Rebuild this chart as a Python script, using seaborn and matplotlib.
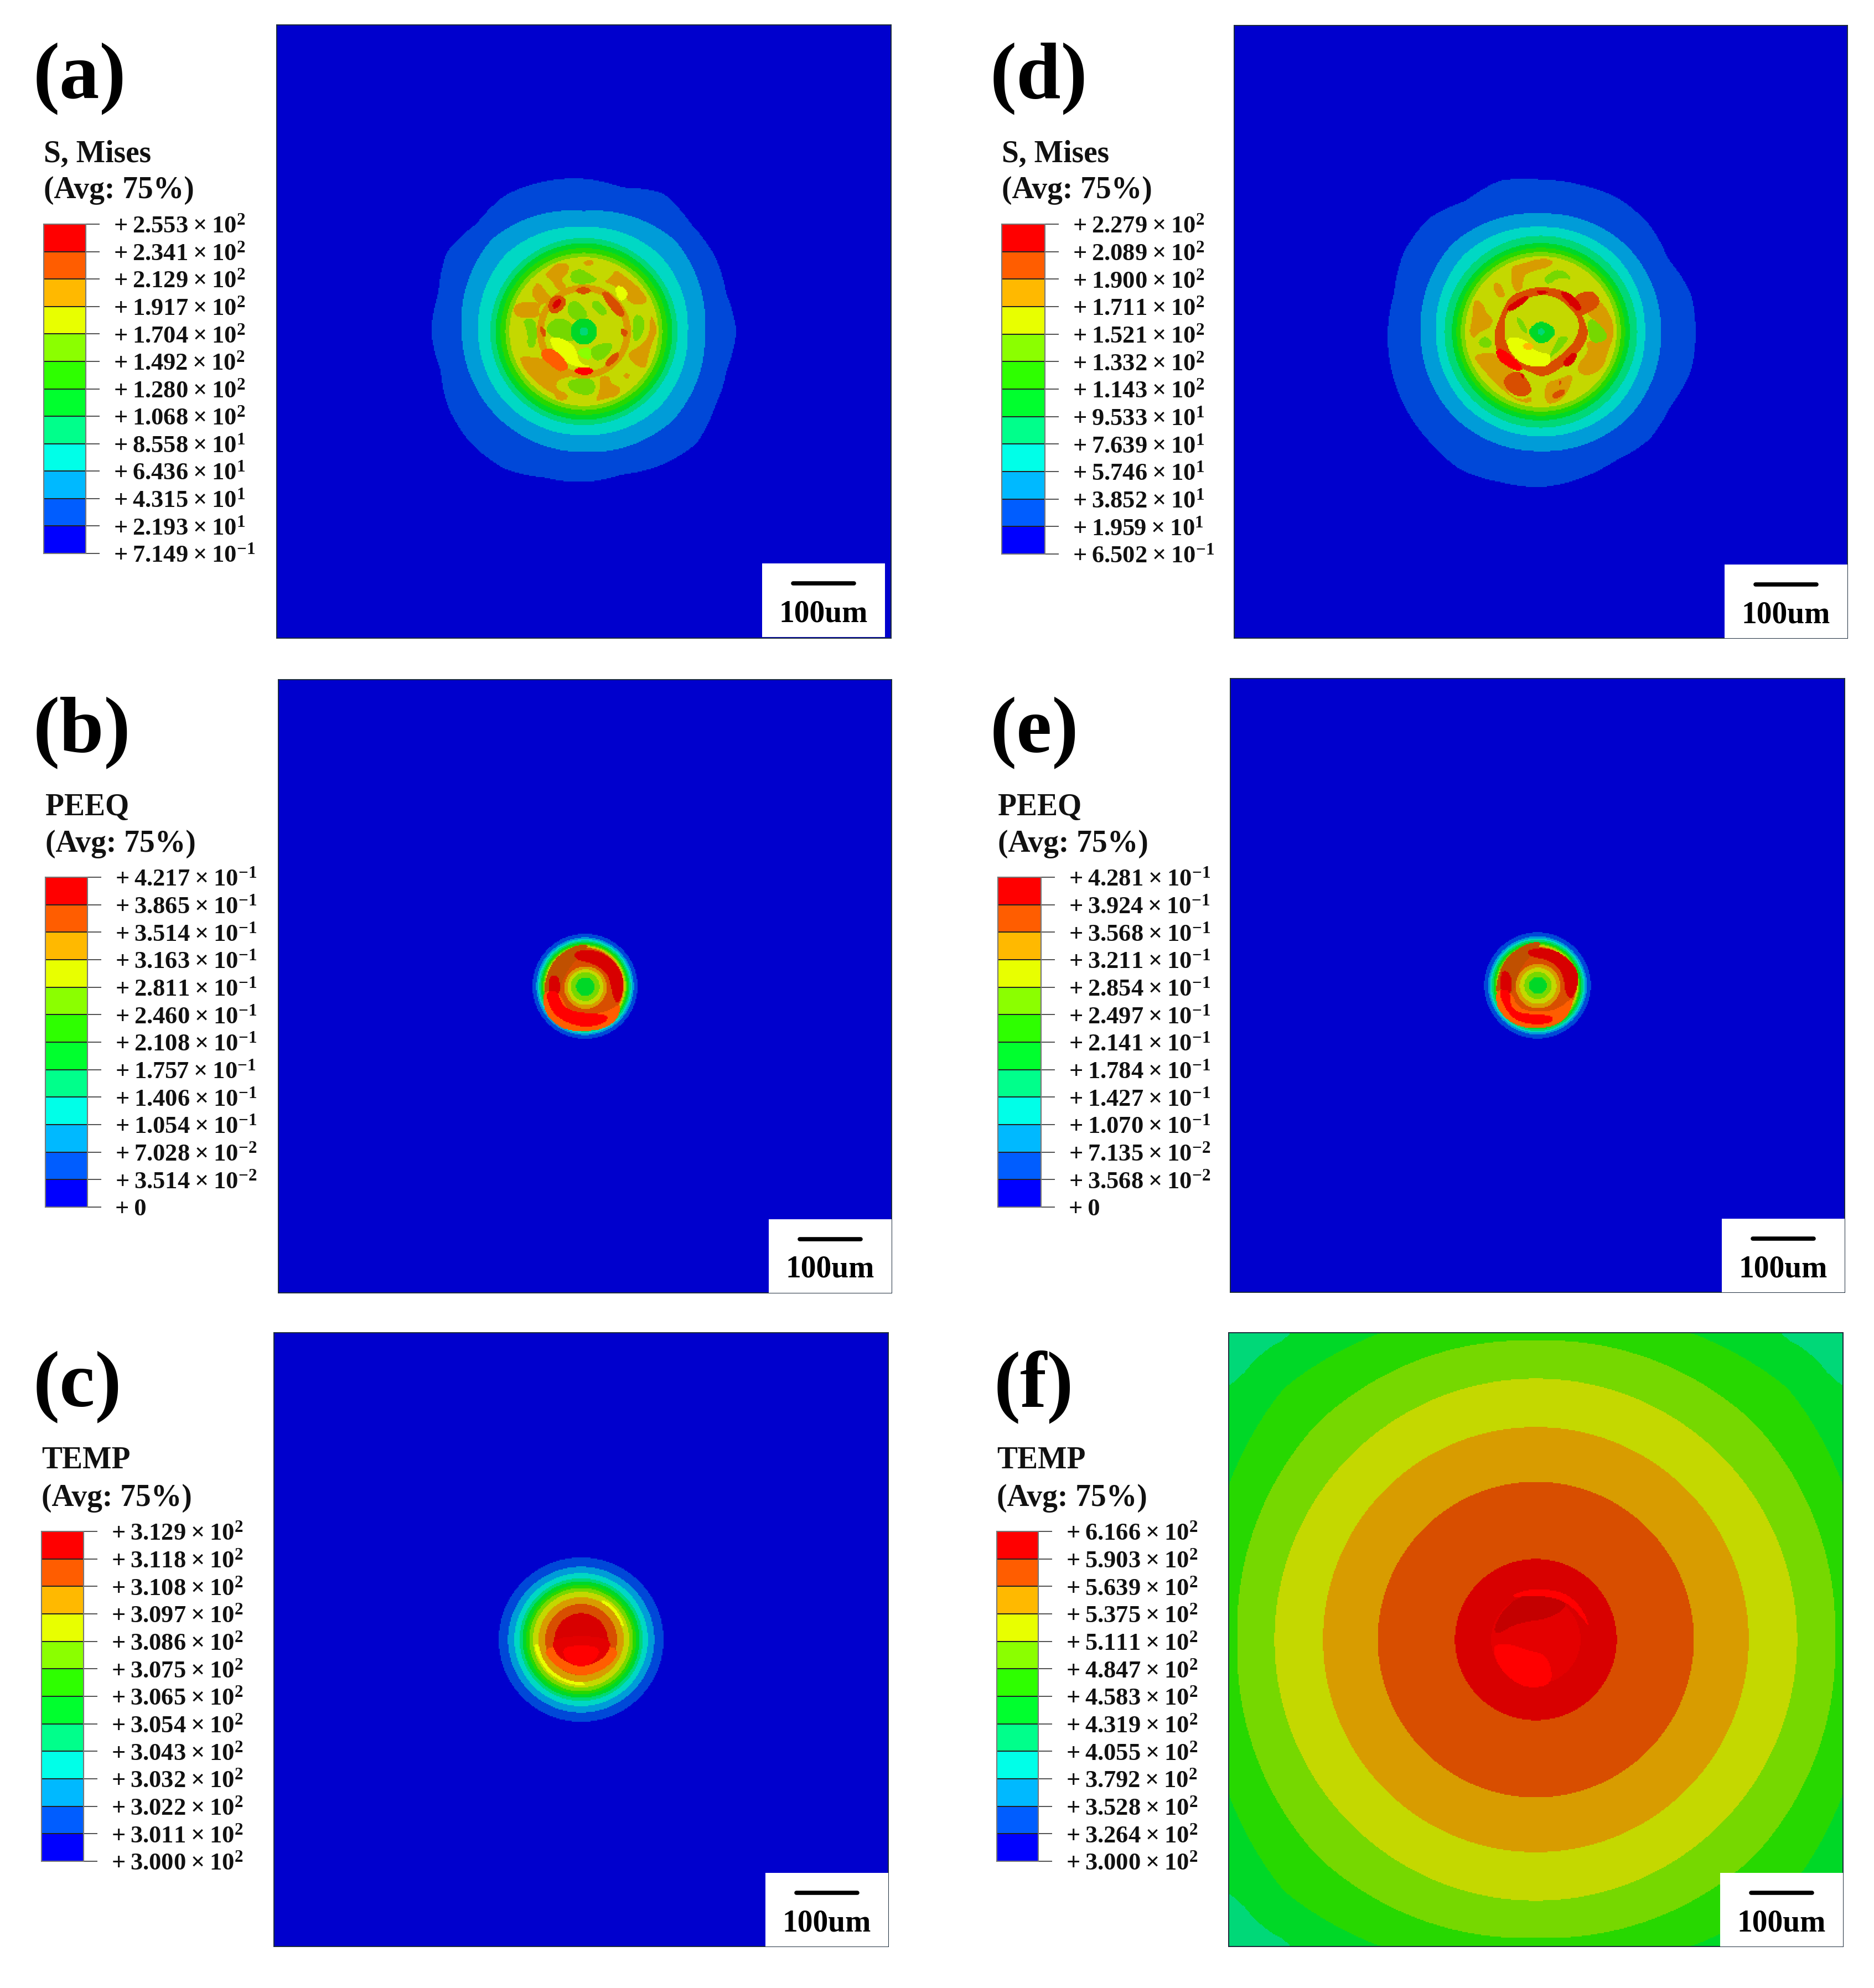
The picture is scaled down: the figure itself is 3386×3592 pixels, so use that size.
import numpy as np
import matplotlib
matplotlib.use("Agg")
import matplotlib.pyplot as plt
from matplotlib.colors import ListedColormap
from matplotlib.path import Path
from matplotlib.patches import Rectangle
import seaborn as sns

# legend values, top to bottom
legend_a = ["2.553e2", "2.341e2", "2.129e2", "1.917e2", "1.704e2", "1.492e2", "1.280e2", "1.068e2", "8.558e1", "6.436e1", "4.315e1", "2.193e1", "7.149e-1"]
legend_b = ["4.217e-1", "3.865e-1", "3.514e-1", "3.163e-1", "2.811e-1", "2.460e-1", "2.108e-1", "1.757e-1", "1.406e-1", "1.054e-1", "7.028e-2", "3.514e-2", "0"]
legend_c = ["3.129e2", "3.118e2", "3.108e2", "3.097e2", "3.086e2", "3.075e2", "3.065e2", "3.054e2", "3.043e2", "3.032e2", "3.022e2", "3.011e2", "3.000e2"]
legend_d = ["2.279e2", "2.089e2", "1.900e2", "1.711e2", "1.521e2", "1.332e2", "1.143e2", "9.533e1", "7.639e1", "5.746e1", "3.852e1", "1.959e1", "6.502e-1"]
legend_e = ["4.281e-1", "3.924e-1", "3.568e-1", "3.211e-1", "2.854e-1", "2.497e-1", "2.141e-1", "1.784e-1", "1.427e-1", "1.070e-1", "7.135e-2", "3.568e-2", "0"]
legend_f = ["6.166e2", "5.903e2", "5.639e2", "5.375e2", "5.111e2", "4.847e2", "4.583e2", "4.319e2", "4.055e2", "3.792e2", "3.528e2", "3.264e2", "3.000e2"]

# contour colours: legend colours, and the same levels as lit in the viewport
legend_colors = ["#0000FF", "#005DFF", "#00B9FF", "#00FFE8", "#00FF8B", "#00FF2E",
                 "#2EFF00", "#8BFF00", "#E8FF00", "#FFB900", "#FF5D00", "#FF0000"]
field_colors = ["#0000CD", "#0048D8", "#009CD8", "#00D8C4", "#00D878", "#00D827",
                "#27D800", "#76D800", "#C4D800", "#D89C00", "#D84E00", "#D80000"]
extra_colors = ["#C40000", "#E40000", "#C05000"]
BRIGHT = 12   # level + BRIGHT gives the pure legend colour
DARK_RED, MID_RED, DARK_ORANGE = 24, 25, 26

PX_PER_UM = 1.18
N_CELLS = 555

# (a) band outlines (scale 2.613, centre 768,785)
a_level1 = [722, 697, 715, 718, 755, 705, 723, 735, 745, 720, 750, 712,
            723, 702, 737, 752, 750, 715, 712, 700, 730, 752, 715, 700]
a_level2 = [572, 610, 570, 617, 578, 575, 570, 595]
a_level3 = [492, 510, 495, 520, 500, 500, 490, 505]
a_inner = [(4, 443), (5, 418), (6, 395), (7, 372), (8, 352)]
a_patches = [
    (9, [(770, 455), (800, 445), (815, 465), (790, 472), (770, 468)]),
    (9, [(640, 470), (690, 470), (690, 510), (655, 540), (680, 560), (680, 590), (640, 580), (625, 545), (590, 520), (610, 500)]),
    (9, [(530, 590), (555, 555), (600, 620), (625, 635), (590, 680), (560, 650), (530, 620)]),
    (9, [(445, 660), (510, 645), (560, 660), (555, 715), (470, 715), (445, 700)]),
    (9, [(920, 500), (960, 530), (1020, 575), (1065, 640), (990, 650), (950, 600), (915, 565), (870, 555), (910, 530)]),
    (9, [(1080, 715), (1100, 760), (1110, 790), (1085, 840), (1070, 900), (1060, 950), (1000, 920), (985, 880), (1040, 850), (1075, 810)]),
    (9, [(465, 900), (560, 910), (600, 920), (680, 970), (780, 985), (640, 1010), (635, 1060), (690, 1075), (690, 1110), (640, 1110), (630, 1080), (570, 1050), (490, 970), (470, 930)]),
    (9, [(845, 1005), (885, 1000), (895, 1035), (935, 1050), (925, 1085), (875, 1095), (825, 1110), (850, 1060)]),
    (9, [(958, 985), (985, 985), (978, 1008), (958, 1003)]),
    (7, [(710, 510), (750, 490), (800, 520), (830, 540), (770, 560), (715, 550)]),
    (7, [(480, 735), (540, 730), (540, 850), (500, 855), (505, 790)]),
    (7, [(1005, 710), (1045, 720), (1055, 760), (1030, 820), (1000, 820)]),
    (7, [(700, 1015), (810, 1010), (815, 1070), (770, 1085), (705, 1060)]),
    (8, [(555, 670), (590, 650), (590, 690), (565, 715)]),
    (8 + BRIGHT, [(920, 570), (960, 580), (975, 610), (950, 640), (925, 620)]),
]
a_ring = [(9, 222), (8, 190)]
a_core = [
    (7, [(600, 760), (650, 720), (720, 760), (720, 830), (640, 815), (600, 790)]),
    (7, [(695, 660), (735, 640), (790, 710), (740, 730), (700, 710)]),
    (7, [(800, 660), (830, 635), (880, 690), (850, 710)]),
    (7, [(800, 860), (905, 835), (880, 900), (820, 925)]),
    (8 + BRIGHT, [(610, 820), (670, 825), (725, 860), (740, 930), (800, 945), (720, 945), (650, 900)]),
    (7 + BRIGHT, [(745, 870), (800, 860), (800, 920), (745, 900)]),
    (10, [(725, 590), (765, 572), (805, 590), (765, 612)]),
    (10, [(600, 650), (640, 610), (685, 640), (660, 685), (615, 700)]),
    (11, [(618, 655), (650, 630), (662, 650), (630, 680)]),
    (10, [(852, 610), (885, 600), (955, 680), (950, 712), (915, 700)]),
    (10, [(945, 770), (978, 785), (962, 812), (942, 792)]),
    (10, [(558, 762), (584, 772), (588, 805), (570, 805)]),
    (10 + BRIGHT, [(560, 895), (610, 860), (695, 940), (660, 975), (615, 945)]),
    (11 + BRIGHT, [(715, 970), (765, 950), (820, 970), (770, 995)]),
    (10, [(865, 935), (920, 880), (935, 905), (890, 950)]),
]
a_center = [(5, 62), (4, 20)]

# (d) same crop scale, centre 793,785
d_level1 = [735, 730, 693, 722, 730, 720, 720, 741, 714, 755, 749, 717,
            723, 729, 734, 740, 755, 736, 735, 718, 704, 723, 707, 732]
d_level2 = [568, 575, 560, 590, 568, 575, 565, 580]
d_level3 = [492, 505, 497, 515, 495, 500, 495, 505]
d_inner = [(4, 455), (5, 420), (6, 398), (7, 378), (8, 358)]
d_patches = [
    (9, [(660, 480), (700, 470), (780, 445), (835, 450), (830, 480), (740, 500), (715, 520), (710, 580), (670, 580)]),
    (9, [(565, 560), (600, 555), (625, 615), (590, 620)]),
    (9, [(480, 640), (520, 660), (530, 700), (560, 720), (550, 760), (500, 780), (480, 810), (460, 780), (475, 720)]),
    (9, [(1000, 600), (1080, 640), (1130, 720), (1140, 800), (1110, 880), (1090, 950), (1040, 990), (980, 990), (960, 950), (1020, 880), (1000, 830), (1110, 810), (1060, 740), (1000, 690)]),
    (9, [(475, 895), (580, 880), (650, 960), (690, 990), (640, 1040), (640, 1080), (700, 1110), (750, 1090), (750, 1120), (700, 1120), (640, 1085), (560, 1010), (490, 930)]),
    (9, [(820, 1030), (880, 1015), (940, 990), (920, 1060), (880, 1110), (820, 1120)]),
    (7, [(495, 840), (530, 805), (565, 840), (535, 865)]),
    (7, [(1020, 730), (1060, 740), (1110, 810), (1060, 835), (1030, 825), (1020, 780)]),
    (7, [(810, 530), (880, 485), (940, 540), (880, 525), (830, 560)]),
    (10, [(950, 620), (1030, 590), (1075, 650), (1000, 700), (960, 690)]),
    (10, [(620, 1010), (690, 970), (740, 1040), (740, 1075), (690, 1090), (640, 1060)]),
    (10, [(845, 1080), (900, 1055), (905, 1080), (860, 1105)]),
    (10, [(880, 1015), (895, 1020), (880, 1045)]),
    (11, [(695, 985), (715, 985), (710, 1010)]),
]
d_ring_outer = [(790, 570), (900, 585), (960, 640), (995, 720), (1020, 790), (995, 855), (950, 905), (880, 965), (800, 1005), (720, 965), (655, 945), (585, 895), (570, 790), (605, 700), (645, 615), (720, 585)]
d_ring_inner = [(795, 605), (880, 625), (950, 690), (975, 740), (965, 810), (920, 870), (830, 940), (720, 950), (690, 900), (630, 850), (620, 790), (625, 700), (680, 640)]
d_core = [
    (7, [(680, 710), (720, 750), (730, 800), (690, 760)]),
    (7, [(880, 810), (925, 820), (870, 880), (830, 910), (860, 850)]),
    (8 + BRIGHT, [(640, 820), (720, 825), (760, 880), (830, 890), (820, 945), (720, 940), (660, 890)]),
    (9 + BRIGHT, [(735, 835), (760, 855), (735, 875), (705, 855)]),
    (5, [(795, 730), (870, 785), (795, 850), (730, 785)]),
    (4, [(795, 765), (815, 785), (795, 805), (775, 785)]),
    (11, [(635, 665), (720, 612), (735, 632), (650, 690)]),
    (11, [(770, 588), (835, 593), (790, 612)]),
    (11, [(880, 598), (925, 598), (985, 660), (965, 690)]),
    (11 + BRIGHT, [(585, 875), (620, 872), (705, 950), (680, 970), (600, 925)]),
    (11, [(895, 930), (950, 880), (962, 912), (920, 955)]),
]

# (b) crop scale 3, centre 465,450
b_bands = [(1, 285), (2, 265), (3, 255), (4, 247), (5, 238), (6, 230), (7, 224), (8, 218), (9, 213), (10, 208)]
b_dark = [(255, 430), (300, 310), (400, 245), (480, 240), (400, 320), (345, 400), (330, 480), (260, 490)]
b_bright = [(255, 490), (340, 490), (380, 590), (480, 600), (560, 590), (640, 540), (600, 660), (400, 690), (280, 620)]
b_arc_top = [(405, 265), (470, 250), (560, 265), (640, 330), (672, 400), (672, 480), (650, 540), (625, 535), (605, 450), (590, 385), (520, 330), (410, 305)]
b_arc_left = [(272, 400), (320, 395), (330, 490), (272, 490)]
b_arc_low = [(272, 490), (330, 490), (345, 550), (400, 590), (560, 600), (565, 625), (530, 650), (440, 662), (340, 625), (290, 570)]
b_rings = [(9, 115, 468, 457), (8, 97, 468, 455), (7, 78, 466, 452), (5, 50, 466, 452)]

# (e) crop scale 3, centre 473,480
e_bands = [(1, 290), (2, 268), (3, 258), (4, 250), (5, 240), (6, 232), (7, 226), (8, 220), (9, 214), (10, 210)]
e_dark = [(262, 460), (300, 340), (410, 265), (490, 262), (410, 340), (360, 420), (340, 520), (265, 520)]
e_bright = [(265, 520), (340, 520), (380, 610), (480, 625), (570, 610), (650, 540), (600, 680), (420, 710), (290, 640)]
e_arc_top = [(410, 295), (470, 272), (560, 282), (645, 335), (690, 400), (697, 470), (665, 550), (642, 548), (622, 510), (618, 450), (590, 380), (520, 335), (440, 325)]
e_arc_left = [(276, 415), (300, 405), (328, 430), (332, 520), (276, 520)]
e_arc_low = [(278, 520), (332, 520), (332, 590), (370, 632), (520, 638), (542, 660), (510, 682), (420, 682), (360, 662), (325, 630), (295, 580)]
e_rings = [(9, 122, 476, 484), (8, 100, 476, 482), (7, 75, 475, 480), (5, 48, 475, 480)]

# (c) crop scale 3, centre 618,548
c_bands = [(1, 448), (2, 398), (3, 363), (4, 335), (5, 318), (6, 298), (7, 282), (8, 262), (9, 232), (10, 195), (11, 145)]
c_bright = [
    (8 + BRIGHT, [(370, 590), (430, 720), (540, 780), (640, 790), (560, 745), (470, 690), (410, 590)]),
    (8 + BRIGHT, [(720, 330), (800, 370), (850, 470), (820, 460), (770, 390)]),
    (10 + BRIGHT, [(425, 585), (810, 585), (760, 690), (620, 745), (490, 690)]),
    (11, [(472, 500), (765, 500), (770, 560), (472, 560)]),
    (MID_RED, [(472, 540), (768, 540), (740, 640), (620, 695), (500, 640)]),
    (11 + BRIGHT, [(520, 590), (718, 590), (680, 670), (620, 693), (550, 670)]),
]

# (f) crop scale 1.31, centre 760,748
f_level6 = [773, 845, 773, 845, 773, 845, 773, 845]
f_level7 = [710, 730, 710, 730, 708, 730, 708, 730]
f_bands = [(8, 620), (9, 505), (10, 375), (11, 192)]
# level 5 outline around one corner, micrometres from the centre, mirrored to all four
f_corner_x = [356, 371, 422, 462, 525]
f_corner_y = [525, 469, 441, 392, 364]
# centre detail of (f), crop scale 3, centre 495,520
f_core = [
    (MID_RED, 243, None),
    (DARK_RED, None, [(290, 440), (340, 350), (420, 290), (560, 280), (650, 330), (560, 400), (400, 420), (300, 480)]),
    (11 + BRIGHT, None, [(400, 275), (500, 250), (640, 265), (725, 340), (765, 440), (715, 375), (640, 305), (500, 280), (400, 295)]),
    (11 + BRIGHT, None, [(280, 565), (350, 555), (450, 590), (540, 610), (570, 750), (440, 770), (350, 715), (295, 640)]),
]

sns.set_theme(style="white")
plt.rcParams["font.family"] = ["Liberation Serif", "DejaVu Serif"]
plt.rcParams["mathtext.default"] = "regular"

field_cmap = ListedColormap(field_colors + legend_colors + extra_colors)
legend_cmap = ListedColormap(legend_colors)

FIG_W, FIG_H = 3386, 3592
fig = plt.figure(figsize=(FIG_W / 100, FIG_H / 100), dpi=100, facecolor="white")


def chaikin(pts, rounds=2):
    pts = np.asarray(pts, dtype=float)
    for _ in range(rounds):
        nxt = np.roll(pts, -1, axis=0)
        pts = np.stack([0.75 * pts + 0.25 * nxt, 0.25 * pts + 0.75 * nxt], axis=1).reshape(-1, 2)
    return pts


def from_read(pts, scale, cx, cy):
    # crop reading -> micrometres from panel centre, y up
    pts = np.asarray(pts, dtype=float)
    if len(pts) < 12:
        # small blobs lose area when their corners get rounded
        mid = pts.mean(axis=0)
        pts = mid + (pts - mid) * 1.15
    return np.column_stack([(pts[:, 0] - cx), -(pts[:, 1] - cy)]) / (scale * PX_PER_UM)


def radial(radii, scale, x0=0.0, y0=0.0):
    radii = np.atleast_1d(radii).astype(float)
    base = np.arange(len(radii)) * 2 * np.pi / len(radii)
    ang = np.arange(96) * 2 * np.pi / 96
    r = np.interp(ang, base, radii, period=2 * np.pi)
    return np.column_stack([x0 + r * np.cos(ang), y0 + r * np.sin(ang)]) / (scale * PX_PER_UM)


class Field:
    def __init__(self, width_px, base):
        half = width_px / PX_PER_UM / 2
        self.xs = np.linspace(-half, half, N_CELLS)
        self.ys = np.linspace(-half, half, N_CELLS)
        self.grid = np.full((N_CELLS, N_CELLS), base, dtype=int)

    def paint(self, level, poly, rounds=2):
        poly = chaikin(poly, rounds)
        i0, i1 = np.searchsorted(self.xs, [poly[:, 0].min(), poly[:, 0].max()])
        j0, j1 = np.searchsorted(self.ys, [poly[:, 1].min(), poly[:, 1].max()])
        if i1 <= i0 or j1 <= j0:
            return
        gx, gy = np.meshgrid(self.xs[i0:i1], self.ys[j0:j1])
        inside = Path(poly).contains_points(np.column_stack([gx.ravel(), gy.ravel()]))
        self.grid[j0:j1, i0:i1][inside.reshape(gx.shape)] = level


def build_a(w):
    f = Field(w, 0)
    s, cx, cy = 2.613, 768, 785
    f.paint(1, radial(a_level1, s))
    f.paint(2, radial(a_level2, s))
    f.paint(3, radial(a_level3, s))
    for lev, r in a_inner:
        f.paint(lev, radial(r, s))
    for lev, pts in a_patches:
        f.paint(lev, from_read(pts, s, cx, cy))
    for lev, r in a_ring:
        f.paint(lev, radial(r, s))
    for lev, pts in a_core:
        f.paint(lev, from_read(pts, s, cx, cy))
    for lev, r in a_center:
        f.paint(lev, radial(r, s))
    return f


def build_d(w):
    f = Field(w, 0)
    s, cx, cy = 2.613, 793, 785
    f.paint(1, radial(d_level1, s))
    f.paint(2, radial(d_level2, s))
    f.paint(3, radial(d_level3, s))
    for lev, r in d_inner:
        f.paint(lev, radial(r, s))
    for lev, pts in d_patches:
        f.paint(lev, from_read(pts, s, cx, cy))
    f.paint(10, from_read(d_ring_outer, s, cx, cy))
    f.paint(8, from_read(d_ring_inner, s, cx, cy))
    for lev, pts in d_core:
        f.paint(lev, from_read(pts, s, cx, cy))
    return f


def build_dot(w, bands, dark, bright, arc_top, arc_left, arc_low, rings, cx, cy):
    f = Field(w, 0)
    s = 3
    for lev, r in bands:
        f.paint(lev, radial(r, s))
    f.paint(DARK_ORANGE, from_read(dark, s, cx, cy))
    f.paint(10 + BRIGHT, from_read(bright, s, cx, cy))
    f.paint(11, from_read(arc_top, s, cx, cy))
    f.paint(11, from_read(arc_left, s, cx, cy))
    f.paint(11 + BRIGHT, from_read(arc_low, s, cx, cy))
    for lev, r, rx, ry in rings:
        f.paint(lev, radial(r, s, rx - cx, cy - ry))
    return f


def build_c(w):
    f = Field(w, 0)
    s, cx, cy = 3, 618, 548
    for lev, r in c_bands[:-3]:
        f.paint(lev, radial(r, s))
    f.paint(c_bright[0][0], from_read(c_bright[0][1], s, cx, cy))
    f.paint(c_bright[1][0], from_read(c_bright[1][1], s, cx, cy))
    f.paint(9, radial(c_bands[-3][1], s))
    f.paint(10, radial(c_bands[-2][1], s))
    f.paint(c_bright[2][0], from_read(c_bright[2][1], s, cx, cy))
    f.paint(11, radial(c_bands[-1][1], s))
    f.paint(c_bright[4][0], from_read(c_bright[4][1], s, cx, cy))
    f.paint(c_bright[5][0], from_read(c_bright[5][1], s, cx, cy))
    return f


def build_f(w):
    f = Field(w, 4)
    s = 1.31
    cx_, cy_ = np.array(f_corner_x), np.array(f_corner_y)
    # walk the four mirrored corners counter-clockwise
    outline = np.vstack([
        np.column_stack([cx_, cy_])[::-1],
        np.column_stack([-cx_, cy_]),
        np.column_stack([-cx_, -cy_])[::-1],
        np.column_stack([cx_, -cy_]),
    ])
    f.paint(5, outline)
    f.paint(6, radial(f_level6, s))
    f.paint(7, radial(f_level7, s))
    for lev, r in f_bands:
        f.paint(lev, radial(r, s))
    for lev, r, pts in f_core:
        if r is not None:
            f.paint(lev, radial(r, 3))
        else:
            f.paint(lev, from_read(pts, 3, 495, 520))
    return f


def fmt_legend(v):
    if "e" not in v:
        return f"+\u2009{v}"
    m, e = v.split("e")
    return f"+\u2009{m}\u2009×\u200910$^{{{e}}}$"


def draw_panel(letter, title, values, box, bar_box, letter_xy, title_y, field, sb_inset=0):
    left, top, right, bottom = box
    ax = fig.add_axes([left / FIG_W, 1 - bottom / FIG_H, (right - left) / FIG_W, (bottom - top) / FIG_H])
    sns.heatmap(field.grid[::-1], ax=ax, cmap=field_cmap, vmin=-0.5, vmax=len(field_cmap.colors) - 0.5,
                cbar=False, xticklabels=False, yticklabels=False)
    for sp in ax.spines.values():
        sp.set_visible(True)
        sp.set_color("#1a2a3a")
        sp.set_linewidth(1.4)

    # scale bar, 100 um long, in the white box at the corner
    cell = (right - left) / N_CELLS
    cell_y = (bottom - top) / N_CELLS
    bx1 = N_CELLS - sb_inset / cell
    bx0 = bx1 - 222 / cell
    by1 = N_CELLS - (2 if sb_inset else 0) / cell_y
    by0 = by1 - 133 / cell_y
    ax.add_patch(Rectangle((bx0, by0), bx1 - bx0, by1 - by0, facecolor="white", edgecolor="none", zorder=3))
    mid = (bx0 + bx1) / 2
    half_bar = 100 * PX_PER_UM / cell / 2
    ax.plot([mid - half_bar + 2, mid + half_bar - 2], [by0 + 36 / cell_y] * 2, color="black", lw=5.5,
            solid_capstyle="round", zorder=4)
    ax.text(mid, by0 + 105 / cell_y, "100um", fontsize=40, fontweight="bold", color="black",
            ha="center", va="baseline", zorder=4)

    # legend strip with ticks at the level edges
    lx0, ly0, lx1, ly1 = bar_box
    lax = fig.add_axes([lx0 / FIG_W, 1 - ly1 / FIG_H, (lx1 - lx0) / FIG_W, (ly1 - ly0) / FIG_H])
    strip = np.arange(11, -1, -1).reshape(-1, 1)
    sns.heatmap(strip, ax=lax, cmap=legend_cmap, vmin=-0.5, vmax=11.5, cbar=False, linewidths=1.4,
                linecolor="#222222", xticklabels=False, yticklabels=False)
    lax.yaxis.tick_right()
    lax.set_yticks(np.arange(13))
    lax.set_yticklabels([fmt_legend(v) for v in values], rotation=0, fontsize=32, fontweight="bold", color="#111111")
    lax.tick_params(axis="y", length=18, width=1.2, color="#333333", pad=18, right=True, left=False)
    for sp in lax.spines.values():
        sp.set_visible(True)
        sp.set_color("#777777")
        sp.set_linewidth(1.5)

    fig.text(letter_xy[0] / FIG_W, 1 - letter_xy[1] / FIG_H, letter, fontsize=104, fontweight="bold",
             ha="left", va="center", color="black")
    for txt, y in zip([title, "(Avg: 75%)"], title_y):
        fig.text(lx0 / FIG_W, 1 - y / FIG_H, txt, fontsize=40, fontweight="bold", ha="left", va="center", color="#111111")


def size(box):
    return box[2] - box[0]


box_a = (500, 45, 1610, 1153)
box_b = (503, 1228, 1611, 2336)
box_c = (495, 2408, 1605, 3517)
box_d = (2230, 46, 3338, 1153)
box_e = (2223, 1226, 3333, 2335)
box_f = (2220, 2408, 3330, 3517)

draw_panel("(a)", "S, Mises", legend_a, box_a, (79, 405, 155, 1000), (60, 142), (279, 344), build_a(size(box_a)), sb_inset=11)
draw_panel("(b)", "PEEQ", legend_b, box_b, (82, 1585, 158, 2181), (60, 1324), (1459, 1525),
           build_dot(size(box_b), b_bands, b_dark, b_bright, b_arc_top, b_arc_left, b_arc_low, b_rings, 465, 450))
draw_panel("(c)", "TEMP", legend_c, box_c, (75, 2767, 151, 3363), (60, 2506), (2639, 2707), build_c(size(box_c)))
draw_panel("(d)", "S, Mises", legend_d, box_d, (1810, 405, 1888, 1001), (1789, 142), (279, 344), build_d(size(box_d)))
draw_panel("(e)", "PEEQ", legend_e, box_e, (1803, 1585, 1881, 2181), (1789, 1324), (1459, 1525),
           build_dot(size(box_e), e_bands, e_dark, e_bright, e_arc_top, e_arc_left, e_arc_low, e_rings, 473, 480))
draw_panel("(f)", "TEMP", legend_f, box_f, (1801, 2767, 1876, 3363), (1796, 2506), (2639, 2707), build_f(size(box_f)))

fig.savefig("out.png", dpi=100)
